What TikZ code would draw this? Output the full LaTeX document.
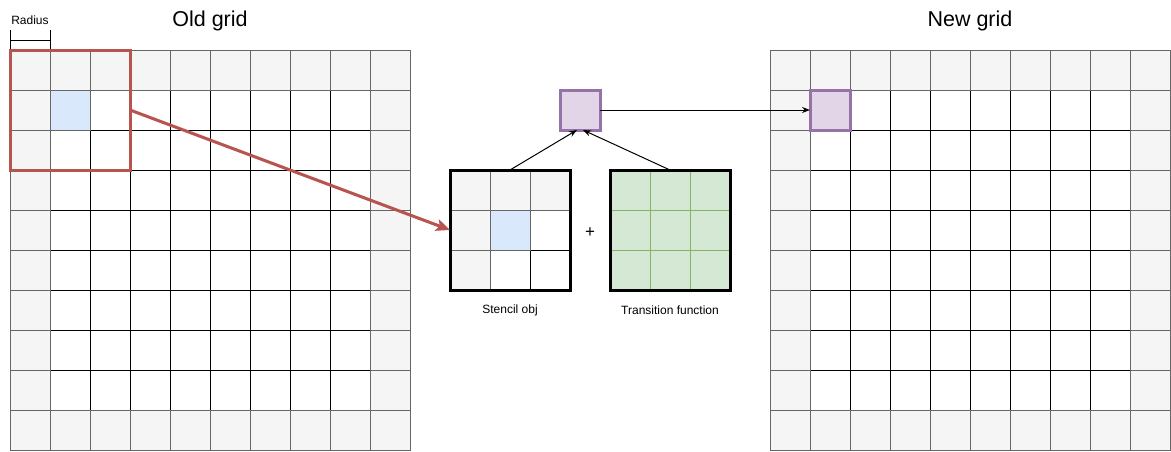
\documentclass[tikz,border=0pt]{standalone}
\usepackage{fontspec}
\setmainfont{Liberation Sans}
\usetikzlibrary{arrows.meta}
\definecolor{grayfill}{HTML}{F5F5F5}
\definecolor{graystroke}{HTML}{666666}
\definecolor{bluefill}{HTML}{DAE8FC}
\definecolor{greenfill}{HTML}{D5E8D4}
\definecolor{greenstroke}{HTML}{82B366}
\definecolor{purplefill}{HTML}{E1D5E7}
\definecolor{purplestroke}{HTML}{9673A6}
\definecolor{redstroke}{HTML}{B85450}
\tikzset{
  whitecell/.style={draw=black,fill=white,line width=1pt},
  graycell/.style={draw=graystroke,fill=grayfill,line width=1pt},
  bluecell/.style={draw=graystroke,fill=bluefill,line width=1pt},
  greencell/.style={draw=greenstroke,fill=greenfill,line width=1pt},
  purplebox/.style={draw=purplestroke,fill=purplefill,line width=3pt,minimum size=40pt,inner sep=0pt,outer sep=0pt},
  thickframe/.style={draw=black,line width=3pt,minimum size=120pt,inner sep=0pt,outer sep=0pt},
  title/.style={font=\fontsize{21.5}{24}\selectfont},
  small/.style={font=\fontsize{12}{14}\selectfont},
  conn/.style={draw=black,line width=1pt,-{Stealth[length=8pt,width=6pt]}},
}
\newcommand{\mkgrid}[2]{%
  \foreach \i in {0,...,9}{\foreach \j in {0,...,9}{%
    \draw[whitecell] ({#1+40*\i},{#2+40*\j}) rectangle ++(40,40);}}%
  \foreach \i in {0,...,9}{%
    \draw[graycell] ({#1+40*\i},{#2}) rectangle ++(40,40);
    \draw[graycell] ({#1+40*\i},{#2+360}) rectangle ++(40,40);}%
  \foreach \j in {1,...,8}{%
    \draw[graycell] ({#1},{#2+40*\j}) rectangle ++(40,40);
    \draw[graycell] ({#1+360},{#2+40*\j}) rectangle ++(40,40);}%
}
\begin{document}
\begin{tikzpicture}[x=1pt,y=-1pt]
\useasboundingbox[fill=white] (0,0) rectangle (1171,451);
% old grid
\mkgrid{10}{50}
\draw[bluecell] (50,90) rectangle (90,130);
\node[title] (oldtitle) at (210,21) {Old grid};
% radius bracket
\coordinate (r1) at (10,30);
\coordinate (r2) at (50,30);
\draw[line width=1pt] (r1) -- ++(0,20) (r2) -- ++(0,20) (10,40) -- (50,40);
\node[small] (radius) at (30,20) {Radius};
% red window
\node[draw=redstroke,line width=3pt,minimum size=120pt,inner sep=0pt,outer sep=0pt] (win) at (70,110) {};
% new grid
\mkgrid{770}{50}
\node[purplebox] (newcell) at (830,110) {};
\node[title] (newtitle) at (970,21) {New grid};
% stencil
\foreach \i in {0,1,2}{\foreach \j in {0,1,2}{\draw[whitecell] ({450+40*\i},{170+40*\j}) rectangle ++(40,40);}}
\foreach \i in {0,1,2}{\draw[graycell] ({450+40*\i},170) rectangle ++(40,40);}
\foreach \j in {1,2}{\draw[graycell] (450,{170+40*\j}) rectangle ++(40,40);}
\draw[bluecell] (490,210) rectangle (530,250);
\node[thickframe] (stencil) at (510,230) {};
\node[small] (stencillabel) at (510,310) {Stencil obj};
% transition
\foreach \i in {0,1,2}{\foreach \j in {0,1,2}{\draw[greencell] ({610+40*\i},{170+40*\j}) rectangle ++(40,40);}}
\node[thickframe] (trans) at (670,230) {};
\node[small] (translabel) at (670,310) {Transition function};
\node[font=\fontsize{17}{20}\selectfont] (plus) at (590,233) {+};
% result cell
\node[purplebox] (res) at (580,110) {};
% connectors
\draw[conn] (stencil.north) -- ([xshift=-3pt]res.south);
\draw[conn] (trans.north) -- ([xshift=3pt]res.south);
\draw[conn] (res.east) -- (newcell.west);
\draw[draw=redstroke,line width=3pt,-{Stealth[length=14pt,width=12pt,inset=3pt]}] (win.east) -- (stencil.west);
\end{tikzpicture}
\end{document}
